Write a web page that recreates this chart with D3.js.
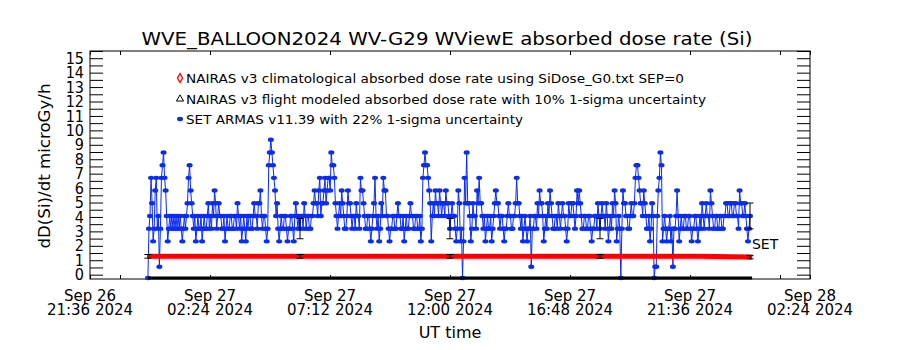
<!DOCTYPE html>
<html>
<head>
<meta charset="utf-8">
<script src="https://cdn.jsdelivr.net/npm/d3@7"></script>
<style>
  body { margin: 0; background: #fff; }
  svg { display: block; }
  text { font-family: "DejaVu Sans", sans-serif; fill: #000; }
</style>
</head>
<body>
<svg id="chart" width="900" height="350"></svg>
<script>
// SET ARMAS dose rate, one sample every 150 s from setStart (microGy/h)
const setStart = "2024-09-26T23:55:00Z";
const setStepSeconds = 150;
const setDose = [
  -0.23, 3.19, 4.07, 6.71, 4.95, 2.31, 3.19, 5.83, 6.71, 3.19, 4.07, 0.55, 3.19, 6.71, 7.59, 8.47, 6.71, 5.83, 4.07, 2.31, 3.19, 4.07, 3.19, 4.07,
  3.19, 4.07, 3.19, 4.07, 3.19, 4.07, 3.19, 4.07, 3.19, 2.31, 3.19, 4.07, 3.19, 4.07, 4.95, 6.71, 7.59, 5.83, 4.95, 4.07, 3.19, 4.07, 2.31, 3.19,

  4.07, 3.19, 3.19, 4.07, 2.31, 3.19, 4.07, 3.19, 3.19, 4.07, 4.95, 3.19, 4.07, 3.19, 4.95, 4.07, 5.83, 4.95, 3.19, 4.07, 4.95, 4.07, 4.07, 3.19,
  3.19, 4.07, 2.31, 3.19, 4.07, 3.19, 3.19, 4.07, 4.07, 3.19, 3.19, 4.07, 4.07, 3.19, 4.95, 4.07, 3.19, 4.07, 2.31, 3.19, 4.07, 3.19, 2.31, 4.07,

  3.19, 4.07, 4.07, 3.19, 3.19, 4.07, 4.95, 4.07, 4.07, 3.19, 4.95, 4.95, 5.83, 4.07, 3.19, 4.07, 4.07, 3.19, 2.31, 3.19, 7.59, 8.47, 9.35, 8.47,
  7.59, 6.71, 5.83, 4.07, 4.95, 3.19, 2.31, 3.19, 4.07, 3.19, 3.19, 4.07, 4.07, 3.19, 2.31, 3.19, 3.19, 4.07, 4.07, 3.19, 2.31, 4.07, 4.95, 4.07,

  3.19, 4.07, 3.19, 4.07, 4.07, 3.19, 4.95, 4.07, 3.19, 4.07, 4.07, 3.19, 3.19, 4.07, 4.07, 4.95, 5.83, 4.95, 4.95, 4.07, 5.83, 6.71, 4.07, 4.95,
  4.95, 5.83, 6.71, 4.95, 5.83, 6.71, 6.71, 5.83, 8.47, 7.59, 7.59, 6.71, 4.95, 4.07, 3.19, 4.07, 4.95, 4.07, 5.83, 4.95, 4.07, 3.19, 3.19, 4.07,

  5.83, 4.95, 4.95, 4.07, 3.19, 4.07, 4.07, 3.19, 4.95, 4.07, 4.07, 3.19, 6.71, 5.83, 5.83, 4.95, 4.07, 3.19, 3.19, 4.07, 4.07, 3.19, 2.31, 3.19,
  4.07, 4.95, 6.71, 4.07, 3.19, 4.07, 2.31, 3.19, 4.95, 4.07, 6.71, 5.83, 5.83, 4.07, 4.07, 3.19, 2.31, 3.19, 3.19, 4.07, 4.07, 3.19, 3.19, 4.07,

  4.95, 4.07, 4.07, 3.19, 3.19, 4.07, 2.31, 3.19, 4.07, 3.19, 3.19, 4.07, 4.95, 4.07, 4.07, 3.19, 3.19, 4.07, 4.07, 3.19, 3.19, 4.07, 2.31, 3.19,
  6.71, 7.59, 8.47, 7.59, 7.59, 6.71, 5.83, 4.95, 2.31, 4.07, 4.95, 4.07, 5.83, 4.95, 4.95, 4.07, 5.83, 4.95, 4.07, 4.95, 4.95, 4.07, 5.83, 4.95,

  4.95, 4.07, 3.19, 4.07, 4.95, 4.07, 4.07, 3.19, 2.31, 3.19, 5.83, 4.95, 2.31, 3.19, -0.23, 2.31, 6.71, 4.95, 8.47, 4.95, 4.95, 4.07, 2.31, 3.19,
  4.95, 4.07, 4.07, 3.19, 5.83, 4.95, 6.71, 4.95, 4.95, 4.07, 3.19, 4.07, 2.31, 3.19, 4.07, 3.19, 3.19, 4.07, 2.31, 3.19, 4.07, 4.95, 5.83, 4.95,

  4.95, 4.07, 3.19, 4.07, 4.07, 3.19, 2.31, 3.19, 3.19, 4.07, 4.95, 4.07, 4.07, 3.19, 3.19, 4.07, 4.07, 4.95, 6.71, 4.95, 4.95, 4.07, 3.19, 4.07,
  2.31, 3.19, 4.07, 3.19, 2.31, 3.19, 3.19, 4.07, 0.55, 3.19, 3.19, 4.07, 4.07, 3.19, 4.95, 4.07, 5.83, 4.95, 4.95, 4.07, 2.31, 3.19, 4.07, 3.19,

  4.95, 4.07, 5.83, 4.95, 4.07, 3.19, 3.19, 4.07, 4.07, 3.19, 4.95, 4.07, 3.19, 4.07, 4.95, 4.07, 4.07, 3.19, 2.31, 3.19, 4.95, 4.07, 4.07, 4.95,
  4.95, 4.07, 3.19, 4.07, 5.83, 4.95, 5.83, 4.95, 4.07, 3.19, 3.19, 4.07, 4.07, 3.19, 3.19, 4.07, 4.07, 3.19, 2.31, 3.19, 3.19, 4.07, 4.07, 3.19,

  4.95, 4.07, 3.19, 4.07, 4.95, 4.07, 4.07, 3.19, 4.95, 4.07, 2.31, 3.19, 4.07, 3.19, 4.95, 4.07, 5.83, 4.95, 2.31, 3.19, 4.07, 3.19, -0.23, 3.19,
  5.83, 4.95, 4.95, 4.07, 4.07, 3.19, 3.19, 4.07, 4.95, 4.07, 4.07, 4.95, 6.71, 7.59, 7.59, 6.71, 5.83, 4.95, 4.95, 4.07, 5.83, 4.95, 4.07, 3.19,

  3.19, 4.07, 2.31, 3.19, 4.95, 4.07, -0.23, 0.55, 0.55, 4.07, 5.83, 6.71, 8.47, 7.59, 2.31, 3.19, 4.07, 3.19, 2.31, 3.19, 3.19, 4.07, 2.31, 3.19,
  0.55, 3.19, 3.19, 4.07, 5.83, 4.07, 2.31, 3.19, 4.07, 3.19, 3.19, 4.07, 4.07, 3.19, 3.19, 4.07, 4.07, 3.19, 2.31, 3.19, 3.19, 4.07, 4.07, 3.19,

  2.31, 3.19, 4.07, 3.19, 4.95, 4.07, 3.19, 4.07, 4.95, 4.07, 4.07, 3.19, 5.83, 4.95, 4.07, 3.19, 3.19, 4.07, 4.07, 3.19, 3.19, 4.07, 4.07, 3.19,
  3.19, 4.07, 4.07, 4.95, 4.95, 4.07, 4.07, 4.95, 4.95, 4.07, 4.07, 4.95, 4.95, 4.07, 4.07, 3.19, 5.83, 4.95, 4.95, 4.07, 4.07, 4.95, 4.07, 3.19,

  2.31, 3.19, 4.07
];
const setSigma = 0.22;

// NAIRAS v3 model values
const nairasTimes = [
  "2024-09-26T23:55:00Z", "2024-09-27T02:00:00Z", "2024-09-27T04:00:00Z", "2024-09-27T06:00:00Z",
  "2024-09-27T08:00:00Z", "2024-09-27T10:00:00Z", "2024-09-27T12:00:00Z", "2024-09-27T14:00:00Z",
  "2024-09-27T16:00:00Z", "2024-09-27T18:00:00Z", "2024-09-27T20:00:00Z", "2024-09-27T22:00:00Z",
  "2024-09-28T00:00:00Z", "2024-09-28T00:05:00Z"
];
const nairasClim = [1.27, 1.27, 1.27, 1.27, 1.27, 1.27, 1.27, 1.27, 1.27, 1.27, 1.27, 1.27, 1.22, 1.18];
const nairasFlight = [-0.23, -0.23, -0.23, -0.23, -0.23, -0.23, -0.23, -0.23, -0.23, -0.23, -0.23, -0.23, -0.23, -0.23];
const nairasSigma = 0.10;

// times where error bars are drawn
const errorTimes = ["2024-09-26T23:55:00Z", "2024-09-27T06:00:00Z", "2024-09-27T12:00:00Z",
                    "2024-09-27T18:00:00Z", "2024-09-28T00:00:00Z"];

const xDomain = ["2024-09-26T21:36:00Z", "2024-09-28T02:24:00Z"];
const xTicks = ["2024-09-26T21:36:00Z", "2024-09-27T02:24:00Z", "2024-09-27T07:12:00Z", "2024-09-27T12:00:00Z",
                "2024-09-27T16:48:00Z", "2024-09-27T21:36:00Z", "2024-09-28T02:24:00Z"];
const xMinorTicks = ["2024-09-26T22:48:00Z", "2024-09-28T01:12:00Z"];
const yDomain = [-0.3, 15.5];
const yTicks = d3.range(0, 15.51, 0.5);

const legendLabels = [
  "NAIRAS v3 climatological absorbed dose rate using SiDose_G0.txt SEP=0",
  "NAIRAS v3 flight modeled absorbed dose rate with 10% 1-sigma uncertainty",
  "SET ARMAS v11.39 with 22% 1-sigma uncertainty"
];
const legendWidths = [498, 520, 337];

const BLUE = "#0a2cf5", RED = "#ff0000";

const svg = d3.select("#chart");
const margin = { top: 51, right: 90, bottom: 71, left: 90 };
const width = 900, height = 350;
const plotW = width - margin.left - margin.right;
const plotH = height - margin.top - margin.bottom;

const x = d3.scaleUtc().domain(xDomain.map(d3.isoParse)).range([margin.left, margin.left + plotW]);
const y = d3.scaleLinear().domain(yDomain).range([margin.top + plotH, margin.top]);

const t0 = d3.isoParse(setStart);
const setData = setDose.map((v, i) => ({ t: d3.utcSecond.offset(t0, i * setStepSeconds), v }));
const climData = nairasTimes.map((t, i) => ({ t: d3.isoParse(t), v: nairasClim[i] }));
const flightData = nairasTimes.map((t, i) => ({ t: d3.isoParse(t), v: nairasFlight[i] }));

// title
svg.append("text")
  .attr("x", 447).attr("y", 45)
  .attr("text-anchor", "middle")
  .attr("textLength", 611).attr("lengthAdjust", "spacingAndGlyphs")
  .style("font-size", "18px")
  .text("WVE_BALLOON2024 WV-G29 WViewE absorbed dose rate (Si)");

// axes
const axisStyle = g => {
  g.select(".domain").remove();
  g.selectAll("line").attr("stroke", "#000");
};

svg.append("g")
  .attr("transform", `translate(0,${margin.top + plotH})`)
  .call(d3.axisBottom(x).tickValues(xTicks.concat(xMinorTicks).map(d3.isoParse)).tickSizeInner(-4).tickFormat(""))
  .call(axisStyle);

svg.append("g")
  .attr("transform", `translate(0,${margin.top})`)
  .call(d3.axisTop(x).tickValues(xTicks.concat(xMinorTicks).map(d3.isoParse)).tickSizeInner(-4).tickFormat(""))
  .call(axisStyle);

// two line date labels
const fmtDay = d3.utcFormat("%b %d");
const fmtTime = d3.utcFormat("%H:%M %Y");
xTicks.map(d3.isoParse).forEach(d => {
  const t = svg.append("text")
    .attr("text-anchor", "middle")
    .style("font-size", "15px");
  t.append("tspan").attr("x", x(d)).attr("y", 301).text(fmtDay(d));
  t.append("tspan").attr("x", x(d)).attr("y", 315).text(fmtTime(d));
});

svg.append("text")
  .attr("x", 450).attr("y", 338)
  .attr("text-anchor", "middle")
  .style("font-size", "16px")
  .text("UT time");

svg.append("g")
  .attr("transform", `translate(${margin.left},0)`)
  .call(d3.axisLeft(y).tickValues(yTicks).tickSizeInner(-13).tickPadding(6)
    .tickFormat(d => Number.isInteger(d) ? d : ""))
  .call(axisStyle)
  .selectAll("text")
  .style("font-family", "'DejaVu Sans Condensed', 'DejaVu Sans', sans-serif")
  .style("font-size", "16px");

svg.append("g")
  .attr("transform", `translate(${margin.left + plotW},0)`)
  .call(d3.axisRight(y).tickValues(yTicks).tickSizeInner(-13).tickFormat(""))
  .call(axisStyle);

svg.append("text")
  .attr("transform", `translate(50,${margin.top + plotH / 2 + 1}) rotate(-90)`)
  .attr("text-anchor", "middle")
  .attr("textLength", 165).attr("lengthAdjust", "spacingAndGlyphs")
  .style("font-size", "16px")
  .text("dD(Si)/dt microGy/h");

// frame
svg.append("rect")
  .attr("x", margin.left).attr("y", margin.top)
  .attr("width", plotW).attr("height", plotH)
  .attr("fill", "none").attr("stroke", "#000");

// SET ARMAS
const line = d3.line().x(d => x(d.t)).y(d => y(d.v));

svg.append("path")
  .datum(setData)
  .attr("fill", "none")
  .attr("stroke", BLUE)
  .attr("stroke-width", 1)
  .attr("d", line);

svg.append("g")
  .selectAll("ellipse")
  .data(setData)
  .join("ellipse")
  .attr("cx", d => x(d.t))
  .attr("cy", d => y(d.v))
  .attr("rx", 3).attr("ry", 2.2)
  .attr("fill", BLUE);

// NAIRAS climatological (dense red diamonds)
svg.append("path")
  .datum(climData)
  .attr("fill", "none")
  .attr("stroke", RED)
  .attr("stroke-width", 5)
  .attr("d", line);

// NAIRAS flight modeled (dense black triangles along the bottom)
svg.append("path")
  .datum(flightData)
  .attr("fill", "none")
  .attr("stroke", "#000")
  .attr("stroke-width", 3)
  .attr("d", line);

// error bars
const errT = errorTimes.map(d3.isoParse);
const nearest = (data, t) => data.reduce((a, b) => Math.abs(b.t - t) < Math.abs(a.t - t) ? b : a);
const bars = [];
errT.forEach(t => {
  const s = nearest(setData, t);
  if (s.v > 0) bars.push({ t: s.t, v: s.v, e: s.v * setSigma });
  const c = nearest(climData, t);
  bars.push({ t, v: c.v, e: c.v * nairasSigma });
});
const eb = svg.append("g").attr("stroke", "#000").attr("stroke-width", 1);
bars.forEach(b => {
  const cx = x(b.t), y1 = y(b.v - b.e), y2 = y(b.v + b.e);
  eb.append("line").attr("x1", cx).attr("x2", cx).attr("y1", y1).attr("y2", y2);
  eb.append("line").attr("x1", cx - 3.5).attr("x2", cx + 3.5).attr("y1", y1).attr("y2", y1);
  eb.append("line").attr("x1", cx - 3.5).attr("x2", cx + 3.5).attr("y1", y2).attr("y2", y2);
});

// SET label next to the end of the series
const lastSet = setData[setData.length - 3];
svg.append("text")
  .attr("x", x(lastSet.t) + 4)
  .attr("y", y(lastSet.v) + 8)
  .style("font-size", "14px")
  .text("SET");

// legend
const legend = svg.append("g").attr("transform", "translate(180,78)");
legend.append("path")
  .attr("d", d3.symbol(d3.symbolDiamond, 22)())
  .attr("fill", "none").attr("stroke", RED).attr("stroke-width", 1.3);
legend.append("path")
  .attr("transform", "translate(0,21)")
  .attr("d", d3.symbol(d3.symbolTriangle, 22)())
  .attr("fill", "none").attr("stroke", "#000").attr("stroke-width", 1);
legend.append("ellipse")
  .attr("cx", 0).attr("cy", 41)
  .attr("rx", 3).attr("ry", 2.2)
  .attr("fill", BLUE);
legendLabels.forEach((s, i) => {
  legend.append("text")
    .attr("x", 6).attr("y", i * 20.5 + 5)
    .attr("textLength", legendWidths[i]).attr("lengthAdjust", "spacingAndGlyphs")
    .style("font-size", "13px")
    .text(s);
});
</script>
</body>
</html>
